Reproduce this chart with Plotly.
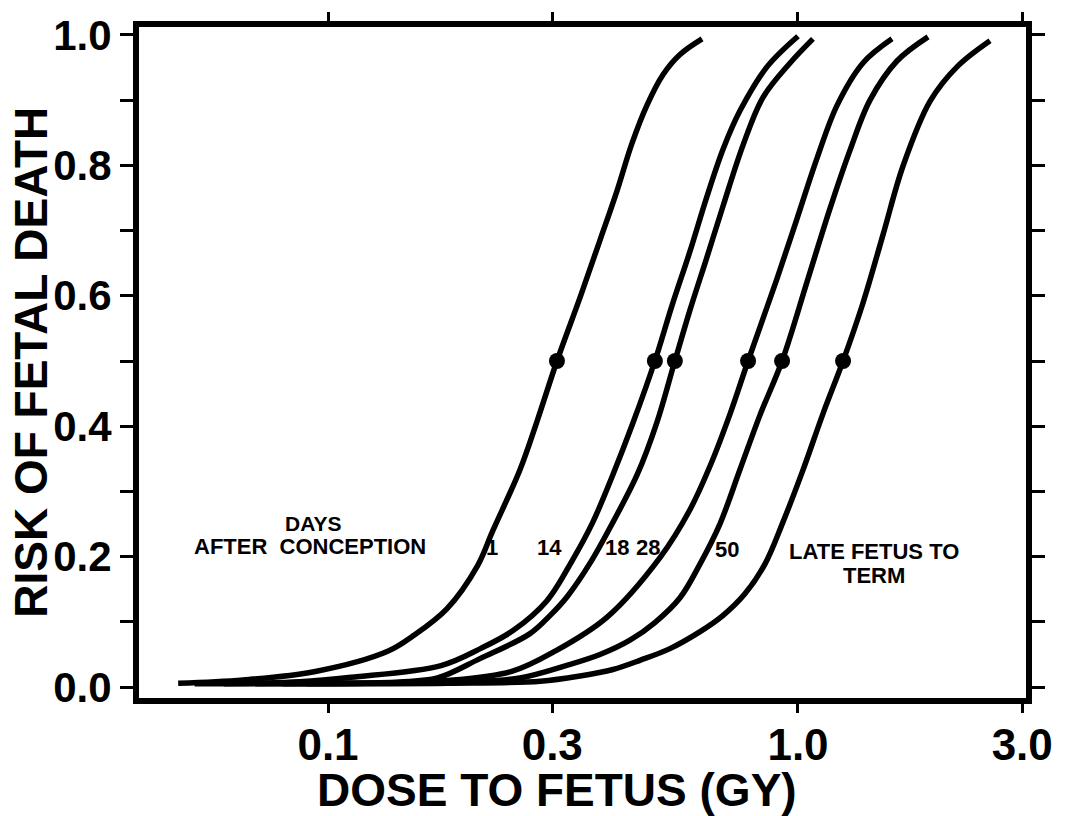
import plotly.graph_objects as go

# ---- data (dose in Gy, risk as fraction) ----
dose_day1 = [0.048, 0.066, 0.094, 0.134, 0.152, 0.179, 0.208, 0.224, 0.256, 0.278, 0.307, 0.344, 0.379, 0.412, 0.443, 0.477, 0.516, 0.561, 0.625]
risk_day1 = [0.006, 0.011, 0.024, 0.055, 0.079, 0.120, 0.186, 0.239, 0.333, 0.406, 0.500, 0.598, 0.685, 0.761, 0.833, 0.892, 0.939, 0.970, 0.994]

dose_day14 = [0.052, 0.070, 0.087, 0.112, 0.174, 0.211, 0.248, 0.292, 0.332, 0.366, 0.404, 0.446, 0.496, 0.540, 0.589, 0.640, 0.693, 0.753, 0.859, 1.000]
risk_day14 = [0.005, 0.006, 0.008, 0.015, 0.033, 0.059, 0.087, 0.132, 0.196, 0.253, 0.326, 0.406, 0.500, 0.586, 0.668, 0.752, 0.825, 0.884, 0.951, 0.998]

dose_day18 = [0.060, 0.100, 0.142, 0.171, 0.211, 0.269, 0.297, 0.323, 0.361, 0.404, 0.455, 0.501, 0.547, 0.589, 0.640, 0.693, 0.764, 0.842, 0.962, 1.076]
risk_day18 = [0.005, 0.006, 0.008, 0.014, 0.044, 0.082, 0.110, 0.139, 0.190, 0.253, 0.326, 0.406, 0.500, 0.578, 0.659, 0.738, 0.831, 0.904, 0.957, 0.994]

dose_day28 = [0.070, 0.120, 0.180, 0.246, 0.304, 0.392, 0.509, 0.589, 0.650, 0.717, 0.783, 0.902, 0.995, 1.098, 1.211, 1.375, 1.585]
risk_day28 = [0.005, 0.006, 0.010, 0.024, 0.055, 0.107, 0.199, 0.272, 0.339, 0.419, 0.500, 0.626, 0.718, 0.811, 0.892, 0.957, 0.994]

dose_day50 = [0.080, 0.140, 0.201, 0.256, 0.321, 0.379, 0.439, 0.496, 0.561, 0.619, 0.682, 0.753, 0.830, 0.925, 1.050, 1.170, 1.290, 1.423, 1.624, 1.891]
risk_day50 = [0.005, 0.006, 0.008, 0.014, 0.033, 0.050, 0.072, 0.099, 0.137, 0.189, 0.250, 0.334, 0.417, 0.500, 0.626, 0.734, 0.823, 0.900, 0.960, 0.997]

dose_late = [0.090, 0.180, 0.283, 0.344, 0.404, 0.461, 0.534, 0.619, 0.693, 0.771, 0.851, 0.929, 1.025, 1.130, 1.247, 1.375, 1.516, 1.673, 1.909, 2.179, 2.562]
risk_late = [0.005, 0.006, 0.009, 0.017, 0.027, 0.041, 0.059, 0.085, 0.110, 0.143, 0.189, 0.253, 0.333, 0.419, 0.500, 0.589, 0.693, 0.799, 0.898, 0.951, 0.991]

ld50_dose = [0.307, 0.496, 0.547, 0.783, 0.925, 1.247]
ld50_risk = [0.5, 0.5, 0.5, 0.5, 0.5, 0.5]

x_tickvals = [0.1, 0.3, 1.0, 3.0]
x_ticktext = ["0.1", "0.3", "1.0", "3.0"]
y_tickvals = [0.0, 0.1, 0.2, 0.3, 0.4, 0.5, 0.6, 0.7, 0.8, 0.9, 1.0]
y_ticktext = ["0.0", "", "0.2", "", "0.4", "", "0.6", "", "0.8", "", "1.0"]

curves = [
    (dose_day1, risk_day1),
    (dose_day14, risk_day14),
    (dose_day18, risk_day18),
    (dose_day28, risk_day28),
    (dose_day50, risk_day50),
    (dose_late, risk_late),
]

FONT = "Liberation Sans, Arial, Helvetica, sans-serif"

fig = go.Figure()
for dx, ry in curves:
    fig.add_trace(go.Scatter(
        x=dx, y=ry, mode="lines",
        line=dict(color="black", width=5.5, shape="spline", smoothing=1.0),
        hoverinfo="skip",
    ))

fig.add_trace(go.Scatter(
    x=ld50_dose, y=ld50_risk, mode="markers",
    marker=dict(color="black", size=16),
    hoverinfo="skip",
))

axis_common = dict(
    showline=True, linecolor="black", linewidth=4,
    ticks="outside", tickcolor="black", tickwidth=3,
    mirror="ticks", showgrid=False, zeroline=False,
)

fig.update_layout(
    width=1067, height=816,
    margin=dict(l=137, r=39, t=20, b=116),
    plot_bgcolor="white", paper_bgcolor="white",
    showlegend=False,
    xaxis=dict(
        type="log", range=[-1.4064, 0.4894],
        tickvals=x_tickvals, ticktext=x_ticktext, ticklen=9,
        ticklabelstandoff=-6,
        tickfont=dict(family=FONT, size=44, color="black", weight="bold"),
        **axis_common,
    ),
    yaxis=dict(
        range=[-0.0198, 1.0152],
        tickvals=y_tickvals, ticktext=y_ticktext, ticklen=13,
        tickfont=dict(family=FONT, size=42, color="black", weight="bold"),
        **axis_common,
    ),
)

# explicit frame around the plotting area
fig.add_shape(type="rect", xref="paper", yref="paper", x0=0, x1=1, y0=0, y1=1,
              line=dict(color="black", width=4), fillcolor="rgba(0,0,0,0)", layer="above")

def ann(text, x, y, size, **kw):
    fig.add_annotation(
        text=text, x=x, y=y, xref="paper", yref="paper",
        showarrow=False, xanchor="center", yanchor="middle",
        font=dict(family=FONT, size=size, color="black", weight="bold"),
        **kw,
    )

NB = "\u00a0"
# axis titles
ann("DOSE" + NB + "TO" + NB + "FETUS" + NB + "(GY)", 0.4714, -0.134, 46)
ann("RISK OF FETAL DEATH", -0.119, 0.501, 46, textangle=-90)

# curve labels
ann("DAYS", 0.1975, 0.261, 21)
ann("AFTER" + NB + NB + "CONCEPTION", 0.1942, 0.228, 22)
ann("1", 0.3984, 0.226, 22)
ann("14", 0.4635, 0.226, 22)
ann("18", 0.5387, 0.226, 22)
ann("28", 0.5735, 0.226, 22)
ann("50", 0.6622, 0.223, 22)
ann("LATE" + NB + "FETUS" + NB + "TO", 0.8272, 0.2206, 22)
ann("TERM", 0.827, 0.1838, 22)

# remove the default 8px page margin so the figure sits at the window's corner
fig.write_html("out.html", config={"displayModeBar": False},
               post_script="document.body.style.margin='0px';")
